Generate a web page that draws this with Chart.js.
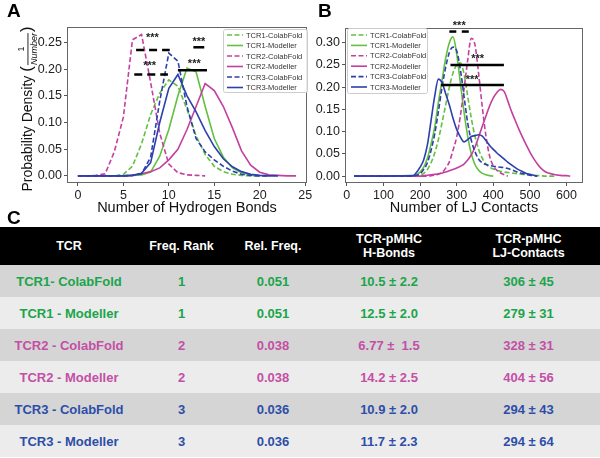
<!DOCTYPE html>
<html>
<head>
<meta charset="utf-8">
<script src="https://cdn.jsdelivr.net/npm/chart.js@4/dist/chart.umd.min.js"></script>
<style>
body { margin: 0; width: 600px; height: 458px; background: #fff; position: relative; overflow: hidden; font-family: "Liberation Sans", Arial, sans-serif; }
#chartA { position: absolute; left: 0; top: 0; z-index: 1; }
#chartB { position: absolute; left: 312px; top: 0; z-index: 2; }
.letter { position: absolute; font-weight: bold; font-size: 19px; line-height: 19px; color: #000; z-index: 3; }
#tbl { position: absolute; left: 0; top: 227px; width: 600px; border-collapse: collapse; table-layout: fixed; }
#tbl th { background: #000; color: #fff; font-size: 12.5px; line-height: 14px; height: 38px; padding: 0; text-align: center; font-weight: bold; }
#tbl td { height: 32px; padding: 0; text-align: center; font-weight: bold; font-size: 13px; }
#tbl tr.dark td { background: #d5d5d5; }
#tbl tr.light td { background: #ececec; }
</style>
</head>
<body>
<canvas id="chartA" width="320" height="222"></canvas>
<canvas id="chartB" width="288" height="222"></canvas>
<div class="letter" style="left:7px; top:1px;">A</div>
<div class="letter" style="left:318px; top:1px;">B</div>
<div class="letter" style="left:7px; top:208px;">C</div>
<table id="tbl">
  <colgroup><col style="width:138px"><col style="width:87px"><col style="width:96px"><col style="width:136px"><col style="width:143px"></colgroup>
  <thead><tr id="head"></tr></thead>
  <tbody id="body"></tbody>
</table>
<script>
var FONT = '"Liberation Sans", Arial, sans-serif';

// series names and colours
var seriesNames = ["TCR1-ColabFold", "TCR1-Modeller", "TCR2-ColabFold", "TCR2-Modeller", "TCR3-ColabFold", "TCR3-Modeller"];
var seriesColors = ["#62c13f", "#62c13f", "#c4409f", "#c4409f", "#2c3fae", "#2c3fae"];
var seriesDashed = [true, false, true, false, true, false];

// panel A: number of hydrogen bonds
var hbX = [0, 1, 2, 3, 4, 5, 6, 7, 8, 9, 10, 11, 12, 13, 14, 15, 16, 17, 18, 19, 20, 21, 22, 23, 24];
var hbTcr1Colab = [0, 0, 0, 0, 0, 0.003, 0.018, 0.06, 0.115, 0.155, 0.18, 0.168, 0.125, 0.075, 0.04, 0.018, 0.008, 0.003, 0.001, 0, 0];
var hbTcr1Mod = [0, 0, 0, 0, 0, 0, 0.001, 0.002, 0.007, 0.037, 0.087, 0.15, 0.202, 0.195, 0.13, 0.07, 0.035, 0.015, 0.006, 0.002, 0];
var hbTcr2Colab = [0, 0, 0.001, 0.004, 0.045, 0.11, 0.255, 0.265, 0.175, 0.08, 0.022, 0.006, 0.002, 0.001, 0];
var hbTcr2Mod = [0, 0, 0, 0, 0, 0, 0.001, 0.004, 0.008, 0.015, 0.03, 0.05, 0.087, 0.13, 0.173, 0.16, 0.13, 0.09, 0.047, 0.02, 0.007, 0.002, 0.001, 0, 0];
var hbTcr3Colab = [0, 0, 0, 0, 0, 0, 0.001, 0.004, 0.035, 0.14, 0.23, 0.215, 0.13, 0.07, 0.045, 0.03, 0.018, 0.009, 0.003, 0.001, 0, 0];
var hbTcr3Mod = [0, 0, 0, 0, 0, 0, 0.001, 0.005, 0.025, 0.1, 0.164, 0.19, 0.15, 0.12, 0.085, 0.055, 0.032, 0.017, 0.008, 0.003, 0.001, 0, 0];
var hbXTicks = [0, 5, 10, 15, 20, 25];
var hbYTicks = [0, 0.05, 0.10, 0.15, 0.20, 0.25];

// panel B: number of LJ contacts
var ljX = [20, 180, 190, 200, 210, 220, 230, 240, 250, 260, 270, 280, 290, 300, 310, 320, 330, 340, 350, 360, 370, 380, 390, 400, 410, 420, 430, 440, 450, 460, 470, 480, 490, 500, 510, 520, 530, 540, 550, 560, 570, 580, 590, 600, 610, 620];
var ljTcr1Colab = [0, 0, 0, 0.002, 0.006, 0.015, 0.03, 0.052, 0.082, 0.12, 0.16, 0.2, 0.232, 0.25, 0.255, 0.23, 0.18, 0.13, 0.09, 0.06, 0.04, 0.027, 0.02, 0.016, 0.013, 0.011, 0.009, 0.008, 0.007, 0.006, 0.005, 0.004, 0.004, 0.003, 0.002, 0.001, 0.001, 0, 0, 0, 0];
var ljTcr1Mod = [0, 0, 0.003, 0.009, 0.02, 0.04, 0.072, 0.11, 0.165, 0.215, 0.265, 0.3, 0.313, 0.275, 0.21, 0.145, 0.09, 0.05, 0.026, 0.013, 0.006, 0.003, 0.001, 0];
var ljTcr2Colab = [0, 0, 0, 0, 0, 0, 0.001, 0.002, 0.004, 0.008, 0.018, 0.032, 0.058, 0.088, 0.135, 0.195, 0.26, 0.31, 0.295, 0.23, 0.155, 0.09, 0.045, 0.023, 0.013, 0.007, 0.003, 0];
var ljTcr2Mod = [0, 0, 0, 0, 0.001, 0.002, 0.003, 0.004, 0.005, 0.007, 0.009, 0.012, 0.015, 0.018, 0.022, 0.027, 0.036, 0.048, 0.065, 0.088, 0.112, 0.135, 0.158, 0.176, 0.188, 0.195, 0.19, 0.168, 0.145, 0.125, 0.105, 0.087, 0.07, 0.054, 0.04, 0.028, 0.018, 0.011, 0.007, 0.005, 0.003, 0.002, 0.001, 0.001, 0];
var ljTcr3Colab = [0, 0, 0.002, 0.005, 0.015, 0.03, 0.058, 0.095, 0.145, 0.2, 0.245, 0.278, 0.29, 0.282, 0.24, 0.18, 0.12, 0.08, 0.055, 0.038, 0.03, 0.026, 0.024, 0.022, 0.021, 0.02, 0.019, 0.017, 0.014, 0.011, 0.008, 0.006, 0.004, 0.002, 0.001, 0];
var ljTcr3Mod = [0, 0.001, 0.008, 0.02, 0.037, 0.07, 0.125, 0.18, 0.218, 0.21, 0.185, 0.16, 0.13, 0.105, 0.088, 0.077, 0.082, 0.089, 0.091, 0.093, 0.09, 0.08, 0.069, 0.06, 0.052, 0.045, 0.038, 0.031, 0.025, 0.019, 0.014, 0.01, 0.006, 0.004, 0.002, 0];
var ljXTicks = [0, 100, 200, 300, 400, 500, 600];
var ljYTicks = [0, 0.05, 0.10, 0.15, 0.20, 0.25, 0.30];

// significance marks: [x0, x1, y, dashed] and star labels: [x, y]
var sigBarsA = [[6.4, 10.1, 0.236, true], [6.2, 9.9, 0.19, true], [12.7, 13.9, 0.241, false], [11.0, 14.2, 0.198, false]];
var sigStarsA = [[8.2, 0.264], [7.9, 0.212], [13.3, 0.257], [12.8, 0.215]];
var sigBarsB = [[280, 299, 0.325, false], [314, 333, 0.325, false], [283, 429, 0.25, false], [257, 429, 0.205, false]];
var sigStarsB = [[307, 0.345], [357, 0.269], [342, 0.222]];

// table
var tableHead = ["TCR", "Freq. Rank", "Rel. Freq.", "TCR-pMHC<br>H-Bonds", "TCR-pMHC<br>LJ-Contacts"];
var tableTcr = ["TCR1- ColabFold", "TCR1 - Modeller", "TCR2 - ColabFold", "TCR2 - Modeller", "TCR3 - ColabFold", "TCR3 - Modeller"];
var tableRank = ["1", "1", "2", "2", "3", "3"];
var tableRelFreq = ["0.051", "0.051", "0.038", "0.038", "0.036", "0.036"];
var tableHBonds = ["10.5 ± 2.2", "12.5 ± 2.0", "6.77 ±&nbsp; 1.5", "14.2 ± 2.5", "10.9 ± 2.0", "11.7 ± 2.3"];
var tableLJ = ["306 ± 45", "279 ± 31", "328 ± 31", "404 ± 56", "294 ± 43", "294 ± 64"];
var tableColors = ["#1aa54a", "#1aa54a", "#c44fa6", "#c44fa6", "#2d4ea8", "#2d4ea8"];


var toPoints = function (xs, ys) {
    return ys.map(function (v, i) { return { x: xs[i], y: v }; });
};

var makeDatasets = function (xs, lists) {
    return lists.map(function (ys, i) {
        return {
            label: seriesNames[i],
            data: toPoints(xs, ys),
            borderColor: seriesColors[i],
            backgroundColor: seriesColors[i],
            borderWidth: 1.6,
            borderDash: seriesDashed[i] ? [5, 2.5] : [],
            pointRadius: 0,
            fill: false,
            order: 6 - i
        };
    });
};

var drawLegend = function (chart, box) {
    var ctx = chart.ctx;
    ctx.save();
    ctx.fillStyle = "rgba(255,255,255,0.85)";
    ctx.strokeStyle = "#cccccc";
    ctx.lineWidth = 1;
    ctx.beginPath();
    ctx.roundRect(box.x + 0.5, box.y + 0.5, box.w, box.h, 2);
    ctx.fill();
    ctx.stroke();
    chart.data.datasets.forEach(function (ds, i) {
        var y = box.first + i * box.step;
        ctx.strokeStyle = ds.borderColor;
        ctx.lineWidth = 1.6;
        ctx.setLineDash(ds.borderDash);
        ctx.beginPath();
        ctx.moveTo(box.x + 4, y);
        ctx.lineTo(box.x + 4 + box.line, y);
        ctx.stroke();
        ctx.setLineDash([]);
        ctx.fillStyle = "#333";
        ctx.font = box.font + "px " + FONT;
        ctx.textBaseline = "middle";
        ctx.fillText(ds.label, box.x + 7 + box.line, y + 0.5);
    });
    ctx.restore();
};

var drawSig = function (chart, bars, stars) {
    var ctx = chart.ctx, sx = chart.scales.x, sy = chart.scales.y;
    ctx.save();
    ctx.strokeStyle = "#000";
    ctx.lineWidth = 2.5;
    bars.forEach(function (b) {
        ctx.setLineDash(b[3] ? [8, 5] : []);
        ctx.beginPath();
        ctx.moveTo(sx.getPixelForValue(b[0]), sy.getPixelForValue(b[2]));
        ctx.lineTo(sx.getPixelForValue(b[1]), sy.getPixelForValue(b[2]));
        ctx.stroke();
    });
    ctx.setLineDash([]);
    ctx.fillStyle = "#222";
    ctx.font = "bold 11px " + FONT;
    ctx.textAlign = "center";
    ctx.textBaseline = "middle";
    stars.forEach(function (s) {
        ctx.fillText("***", sx.getPixelForValue(s[0]), sy.getPixelForValue(s[1]) + 3);
    });
    ctx.restore();
};

var drawFrame = function (chart) {
    var a = chart.chartArea, ctx = chart.ctx;
    ctx.save();
    ctx.strokeStyle = "#666";
    ctx.lineWidth = 1;
    ctx.strokeRect(Math.round(a.left) + 0.5, Math.round(a.top) + 0.5, Math.round(a.right - a.left) - 1, Math.round(a.bottom - a.top) - 1);
    ctx.restore();
};

var drawYTitle = function (chart) {
    var ctx = chart.ctx;
    ctx.save();
    ctx.translate(28, 109);
    ctx.rotate(-Math.PI / 2);
    ctx.fillStyle = "#111";
    ctx.textBaseline = "middle";
    var main = "Probability Density ";
    ctx.font = "14px " + FONT;
    var wMain = ctx.measureText(main).width;
    ctx.font = "17px " + FONT;
    var wParen = ctx.measureText("(").width;
    ctx.font = "italic 9px " + FONT;
    var wNum = ctx.measureText("Number").width;
    var x = -(wMain + 2 * wParen + wNum + 2) / 2;
    ctx.textAlign = "left";
    ctx.font = "14px " + FONT;
    ctx.fillText(main, x, 0);
    x += wMain;
    ctx.font = "17px " + FONT;
    ctx.fillText("(", x, -1);
    x += wParen + 1;
    ctx.textAlign = "center";
    ctx.font = "9px " + FONT;
    ctx.fillText("1", x + wNum / 2, -6);
    ctx.fillRect(x, -0.5, wNum, 0.9);
    ctx.font = "italic 9px " + FONT;
    ctx.fillText("Number", x + wNum / 2, 6);
    x += wNum + 1;
    ctx.textAlign = "left";
    ctx.font = "17px " + FONT;
    ctx.fillText(")", x, -1);
    ctx.restore();
};

var makeScales = function (xr, yr, xTicks, yTicks, xTitle, yWidth) {
    var grid = { drawOnChartArea: false, drawTicks: true, tickLength: 3, color: "#555", lineWidth: 1 };
    return {
        x: {
            type: "linear", min: xr[0], max: xr[1],
            afterBuildTicks: function (s) { s.ticks = xTicks.map(function (v) { return { value: v }; }); },
            afterFit: function (s) { s.height = 39; },
            grid: grid, border: { display: false },
            ticks: { color: "#222", font: { size: 12.5, family: FONT }, padding: 2, maxRotation: 0 },
            title: { display: true, text: xTitle, color: "#111", font: { size: 14.5, family: FONT }, padding: { top: 0, bottom: 5 } }
        },
        y: {
            type: "linear", min: yr[0], max: yr[1],
            afterBuildTicks: function (s) { s.ticks = yTicks.map(function (v) { return { value: v }; }); },
            afterFit: function (s) { s.width = yWidth; },
            grid: grid, border: { display: false },
            ticks: { color: "#222", font: { size: 12.5, family: FONT }, padding: 2, callback: function (v) { return v.toFixed(2); } }
        }
    };
};

var chartA = new Chart(document.getElementById("chartA"), {
    type: "line",
    data: { datasets: makeDatasets(hbX, [hbTcr1Colab, hbTcr1Mod, hbTcr2Colab, hbTcr2Mod, hbTcr3Colab, hbTcr3Mod]) },
    options: {
        responsive: false, animation: false, devicePixelRatio: 1,
        layout: { padding: { left: 0, top: 27, right: 13, bottom: 0 } },
        plugins: { legend: { display: false }, tooltip: { enabled: false } },
        scales: makeScales([-1.2, 25.2], [-0.0133, 0.279], hbXTicks, hbYTicks, "Number of Hydrogen Bonds", 67)
    },
    plugins: [{
        id: "decorA",
        afterDraw: function (chart) {
            drawFrame(chart);
            drawSig(chart, sigBarsA, sigStarsA);
            drawLegend(chart, { x: 223, y: 29, w: 84, h: 63, first: 35, step: 10.5, line: 16, font: 7.5 });
            drawYTitle(chart);
        }
    }]
});

var chartB = new Chart(document.getElementById("chartB"), {
    type: "line",
    data: { datasets: makeDatasets(ljX, [ljTcr1Colab, ljTcr1Mod, ljTcr2Colab, ljTcr2Mod, ljTcr3Colab, ljTcr3Mod]) },
    options: {
        responsive: false, animation: false, devicePixelRatio: 1,
        cubicInterpolationMode: "monotone",
        layout: { padding: { left: 0, top: 28, right: 17, bottom: 0 } },
        plugins: { legend: { display: false }, tooltip: { enabled: false } },
        scales: makeScales([-5, 645], [-0.0155, 0.333], ljXTicks, ljYTicks, "Number of LJ Contacts", 33)
    },
    plugins: [{
        id: "decorB",
        afterDraw: function (chart) {
            drawFrame(chart);
            drawSig(chart, sigBarsB, sigStarsB);
            drawLegend(chart, { x: 35, y: 28, w: 80, h: 65, first: 35, step: 10.4, line: 16, font: 7.5 });
        }
    }]
});

// table
var head = document.getElementById("head");
tableHead.forEach(function (h) {
    var th = document.createElement("th");
    th.innerHTML = h;
    head.appendChild(th);
});
var body = document.getElementById("body");
tableTcr.forEach(function (name, i) {
    var tr = document.createElement("tr");
    tr.className = i % 2 === 0 ? "dark" : "light";
    [name, tableRank[i], tableRelFreq[i], tableHBonds[i], tableLJ[i]].forEach(function (c) {
        var td = document.createElement("td");
        td.innerHTML = c;
        td.style.color = tableColors[i];
        tr.appendChild(td);
    });
    body.appendChild(tr);
});
</script>
</body>
</html>
